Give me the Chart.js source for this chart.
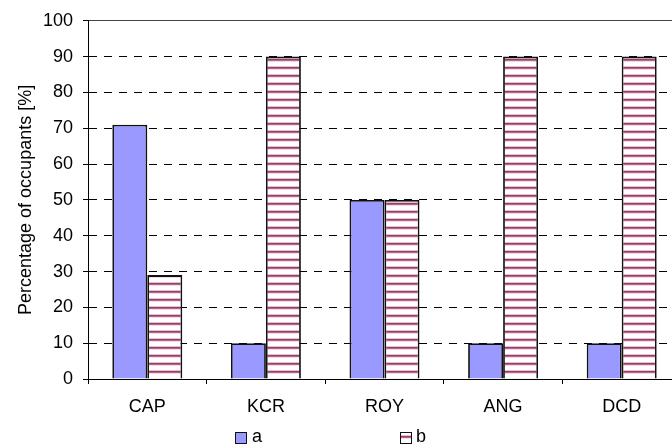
<!DOCTYPE html>
<html>
<head>
<meta charset="utf-8">
<script src="https://cdn.jsdelivr.net/npm/chart.js@4.4.1/dist/chart.umd.min.js"></script>
<style>
  html, body { margin: 0; padding: 0; background: #fff; overflow: hidden; }
  #wrap { position: relative; width: 672px; height: 448px; overflow: hidden; }
  #c { position: absolute; left: 0; top: 0; }
  .lg { position: absolute; font-family: "Liberation Sans", Arial, sans-serif; font-size: 18px; color: #000; line-height: 18px; }
  .sw { position: absolute; width: 10px; height: 10px; border: 1px solid #111; }
</style>
</head>
<body>
<div id="wrap">
  <canvas id="c" width="681" height="448"></canvas>
  <div id="legend"></div>
</div>
<script>
const categories = ["CAP", "KCR", "ROY", "ANG", "DCD"];
const seriesNames = ["a", "b"];
const seriesA = [71, 10, 50, 10, 10];
const seriesB = [29, 90, 50, 90, 90];
const yTicks = [0, 10, 20, 30, 40, 50, 60, 70, 80, 90, 100];

function makeStripe() {
  const p = document.createElement('canvas');
  p.width = 8; p.height = 8;
  const g = p.getContext('2d');
  g.fillStyle = '#ffffff'; g.fillRect(0, 0, 8, 8);
  g.fillStyle = '#e3c3d3'; g.fillRect(0, 2, 8, 1);
  g.fillStyle = '#9c3a6c'; g.fillRect(0, 3, 8, 1);
  g.fillStyle = '#b5678f'; g.fillRect(0, 4, 8, 1);
  g.fillStyle = '#eddbe4'; g.fillRect(0, 5, 8, 1);
  return p;
}
const stripeCanvas = makeStripe();
const ctx = document.getElementById('c').getContext('2d');
const stripe = ctx.createPattern(stripeCanvas, 'repeat');

const FONT = { family: '"Liberation Sans", Arial, sans-serif', size: 18 };

const chart = new Chart(ctx, {
  type: 'bar',
  data: {
    labels: categories,
    datasets: [
      { label: seriesNames[0], data: seriesA, backgroundColor: '#9999ff', borderColor: '#111', borderWidth: 1.8,
        categoryPercentage: 0.59, barPercentage: 1.0 },
      { label: seriesNames[1], data: seriesB, backgroundColor: stripe, borderColor: '#111', borderWidth: 1.8,
        categoryPercentage: 0.59, barPercentage: 1.0 }
    ]
  },
  options: {
    responsive: false,
    animation: false,
    devicePixelRatio: 1,
    layout: { padding: { top: 19, left: 0, right: 0, bottom: 0 } },
    plugins: { legend: { display: false }, tooltip: { enabled: false } },
    scales: {
      x: {
        offset: true,
        grid: { drawOnChartArea: false, drawTicks: true, tickLength: 5, tickColor: '#000', tickWidth: 1, offset: true },
        border: { display: true, color: '#000', width: 1 },
        ticks: { color: '#000', font: FONT, padding: 12, maxRotation: 0 },
        afterFit: (s) => { s.height = 69; }
      },
      y: {
        min: 0, max: 100,
        afterBuildTicks: (s) => { s.ticks = yTicks.map(v => ({ value: v })); },
        grid: { color: (c) => (c.tick && c.tick.value === 100) ? '#444' : '#000', lineWidth: 1, drawTicks: true, tickLength: 5, tickColor: '#000', tickWidth: 1 },
        border: { display: true, color: '#000', width: 1,
          dash: (c) => (c.tick && c.tick.value > 0 && c.tick.value < 100) ? [8, 7] : [] },
        ticks: { color: '#000', font: FONT, padding: 10, stepSize: 10 },
        title: { display: true, text: 'Percentage of occupants [%]', color: '#000', font: FONT, padding: { top: 15, bottom: 0 } },
        afterFit: (s) => { s.width = 88; }
      }
    }
  }
});

// HTML legend built from the datasets
const legendPos = [{ box: 235, text: 252 }, { box: 400, text: 416 }];
const lg = document.getElementById('legend');
chart.data.datasets.forEach((ds, i) => {
  const sw = document.createElement('div');
  sw.className = 'sw';
  sw.style.left = legendPos[i].box + 'px';
  sw.style.top = '432px';
  if (i === 0) sw.style.background = ds.backgroundColor;
  else sw.style.background = 'url(' + stripeCanvas.toDataURL() + ')';
  lg.appendChild(sw);
  const t = document.createElement('div');
  t.className = 'lg';
  t.style.left = legendPos[i].text + 'px';
  t.style.top = '427px';
  t.textContent = ds.label;
  lg.appendChild(t);
});
</script>
</body>
</html>
